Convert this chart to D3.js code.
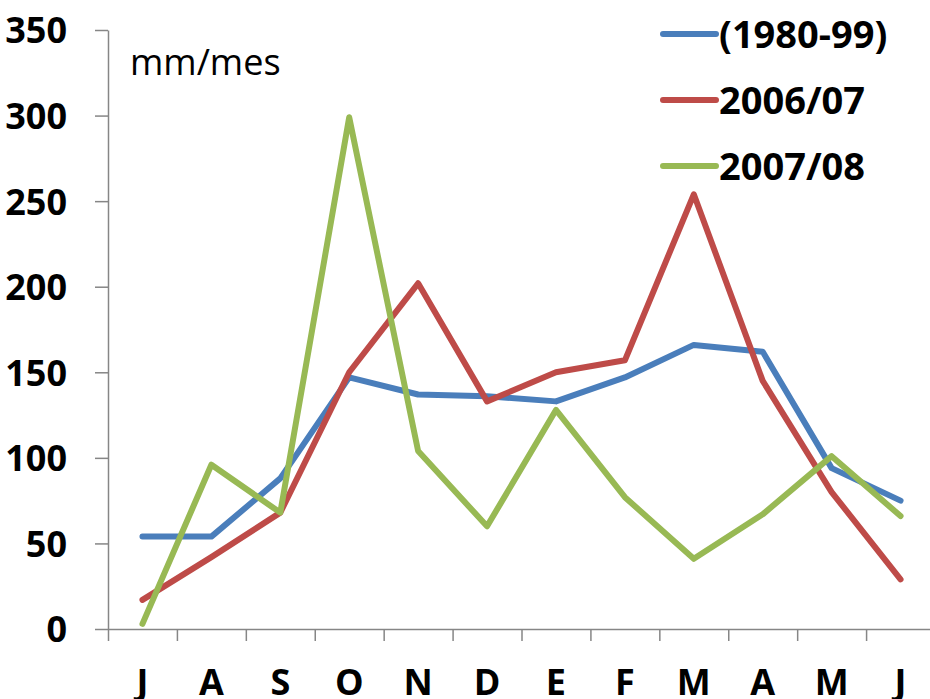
<!DOCTYPE html>
<html>
<head>
<meta charset="utf-8">
<script src="https://cdn.jsdelivr.net/npm/d3@7"></script>
<style>
  html, body { margin: 0; padding: 0; background: #fff; }
  svg { display: block; font-family: "Open Sans", "Liberation Sans", sans-serif; }
</style>
</head>
<body>
<svg width="930" height="699"></svg>
<script>
// month labels (hydrological year, July -> June)
const months = ["J", "A", "S", "O", "N", "D", "E", "F", "M", "A", "M", "J"];
const yTicks = [0, 50, 100, 150, 200, 250, 300, 350];

// series values, mm/month
const mean8099 = [54, 54, 88, 147, 137, 136, 133, 147, 166, 162, 94, 75];
const y2006_07 = [17, 42, 68, 150, 202, 133, 150, 157, 254, 145, 80, 29];
const y2007_08 = [3, 96, 68, 299, 104, 60, 128, 77, 41, 67, 101, 66];

const seriesNames = ["(1980-99)", "2006/07", "2007/08"];
const seriesColors = ["#4a7ebb", "#be4b48", "#98b954"];
const series = [mean8099, y2006_07, y2007_08];

const svg = d3.select("svg");
const plotLeft = 108, plotRight = 935, plotTop = 30, plotBottom = 629;

const xBand = d3.scaleBand().domain(d3.range(months.length)).range([plotLeft, plotRight]);
const xEdge = d3.scaleLinear().domain([0, months.length]).range([plotLeft, plotRight]);
const y = d3.scaleLinear().domain([0, 350]).range([plotBottom, plotTop]);

// y axis
const yAxis = svg.append("g")
  .attr("transform", `translate(${plotLeft},0)`)
  .call(d3.axisLeft(y).tickValues(yTicks).tickSize(13).tickSizeOuter(0));
yAxis.select(".domain").attr("stroke", "#868686").attr("stroke-width", 1.5);
yAxis.selectAll(".tick line").attr("stroke", "#868686").attr("stroke-width", 1.5);
yAxis.selectAll(".tick text")
  .attr("x", -41)
  .attr("dy", "0.36em")
  .attr("fill", "#000")
  .style("font-size", "36px")
  .style("font-weight", "bold")
  .style("font-family", "'Open Sans', sans-serif");

// x axis (tick marks at category edges)
const xAxis = svg.append("g")
  .attr("transform", `translate(0,${plotBottom})`)
  .call(d3.axisBottom(xEdge).tickValues(d3.range(months.length + 1)).tickFormat("").tickSize(12).tickSizeOuter(0));
xAxis.select(".domain").attr("stroke", "#868686").attr("stroke-width", 1.5);
xAxis.selectAll(".tick line").attr("stroke", "#868686").attr("stroke-width", 1.5);

svg.append("g").selectAll("text")
  .data(months)
  .join("text")
  .attr("x", (d, i) => xBand(i) + xBand.bandwidth() / 2)
  .attr("y", 695)
  .attr("text-anchor", "middle")
  .style("font-size", "36px")
  .style("font-weight", "bold")
  .text(d => d);

// unit label
svg.append("text")
  .attr("x", 130)
  .attr("y", 75)
  .style("font-size", "36px")
  .text("mm/mes");

// lines
const line = d3.line()
  .x((d, i) => xBand(i) + xBand.bandwidth() / 2)
  .y(d => y(d));

svg.append("g").selectAll("path")
  .data(series)
  .join("path")
  .attr("d", line)
  .attr("fill", "none")
  .attr("stroke", (d, i) => seriesColors[i])
  .attr("stroke-width", 6)
  .attr("stroke-linejoin", "round")
  .attr("stroke-linecap", "round");

// legend
const legend = svg.append("g").selectAll("g")
  .data(seriesNames)
  .join("g")
  .attr("transform", (d, i) => `translate(663,${34 + i * 66})`);
legend.append("line")
  .attr("x1", 0).attr("x2", 53)
  .attr("stroke", (d, i) => seriesColors[i])
  .attr("stroke-width", 6)
  .attr("stroke-linecap", "round");
legend.append("text")
  .attr("x", 56)
  .attr("dy", "0.36em")
  .style("font-size", "38px")
  .style("font-weight", "bold")
  .text(d => d);
</script>
</body>
</html>
